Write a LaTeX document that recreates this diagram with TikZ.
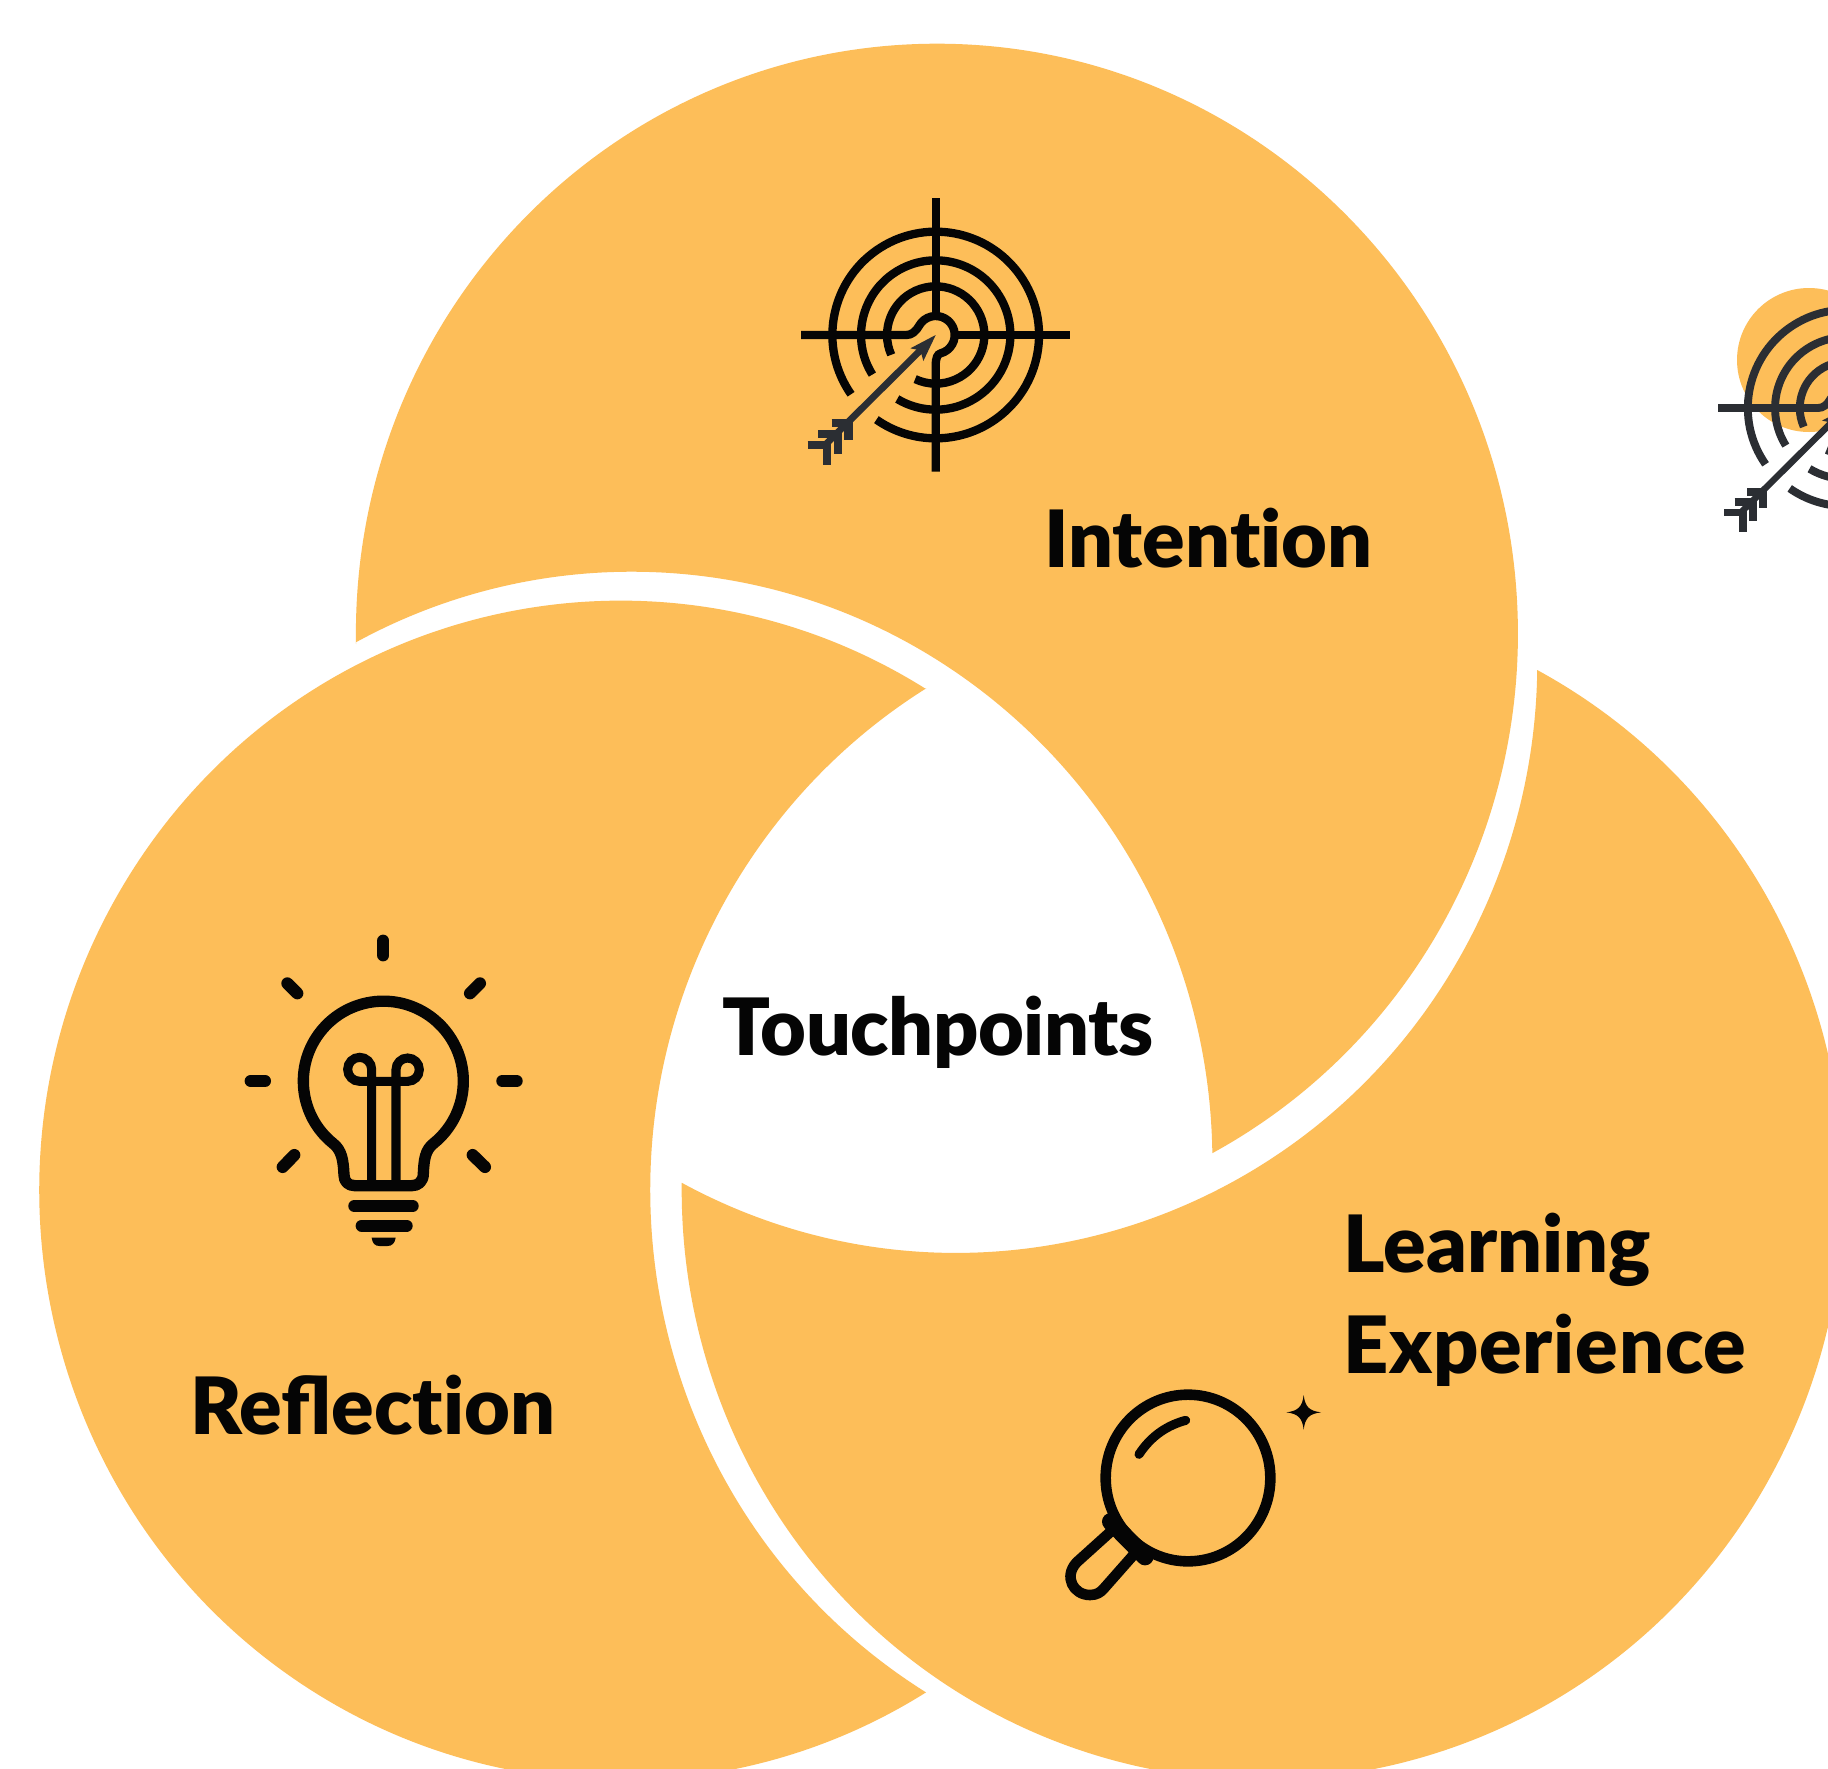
\documentclass[tikz,border=0pt]{standalone}
\usepackage{fontspec}
\newfontfamily\lab{Lato Black}
\definecolor{venn}{HTML}{FDBE59}
\definecolor{ink}{HTML}{050505}
\definecolor{slate}{HTML}{2B2E33}
\def\ru{0.02cm}
\def\zl#1{#1*0.215pt}
\newcommand{\targeticon}[5]{%
 \begin{scope}[shift={(#1,#2)},scale=#3/3]
  \begin{scope}[draw=#4,line width=\zl{22*#3}]
   \draw ({310*cos(215)},{-310*sin(215)}) arc[start angle=215,end angle=-125,radius={310*\ru}];
   \draw ({224*cos(212)},{-224*sin(212)}) arc[start angle=212,end angle=-121,radius={224*\ru}];
   \draw ({146*cos(204)},{-146*sin(204)}) arc[start angle=204,end angle=-115,radius={146*\ru}];
   \draw (-404,0) -- (-88,0) .. controls (-72,0) and (-59,-11) .. ({57*cos(150)},{-57*sin(150)})
      arc[start angle=150,end angle=-75,radius={57*\ru}]
      .. controls (5,58) and (0,68) .. (0,92) -- (0,410);
   \draw (0,-410) -- (0,-57);
   \draw (57,0) -- (403,0);
  \end{scope}
  \begin{scope}[draw=#5,fill=#5]
   \fill (0,0) -- (-76,40) -- (-46,46) -- (-37,78) -- cycle;
   \draw[line width=\zl{18*#3}] (-42,42) -- (-332,330);
   \begin{scope}[line width=\zl{22*#3}]
    \draw (-312,265) -- (-262,265) -- (-262,315);
    \draw (-352,298) -- (-294,298) -- (-294,357);
    \draw (-384,330) -- (-326,330) -- (-326,390);
   \end{scope}
  \end{scope}
 \end{scope}}
\begin{document}
\begin{tikzpicture}[x=\ru,y=-\ru,
  labeltext/.style={anchor=base west,inner sep=0pt,font=\lab\fontsize{45}{45}\selectfont,text=ink},
  ray/.style={draw=ink,line width=\zl{32},line cap=round}]
\useasboundingbox (0,0) rectangle (1828,1768);
\clip (0,0) rectangle (1828,1768);
\fill[white] (0,0) rectangle (1828,1768);
% three cut discs
\fill[venn] (356,644) arc[x radius={581*\ru},y radius={590*\ru},start angle=181,end angle=-61.7]
  arc[x radius={581*\ru},y radius={590*\ru},start angle=0.83,end angle=118.3] -- cycle;
\fill[venn] (926,689) arc[x radius={581*\ru},y radius={590*\ru},start angle=58.25,end angle=301.75]
  arc[x radius={581*\ru},y radius={590*\ru},start angle=238.3,end angle=121.7] -- cycle;
\fill[venn] (1539,671) arc[x radius={581*\ru},y radius={590*\ru},start angle=61.6,end angle=-180.7]
  arc[x radius={581*\ru},y radius={590*\ru},start angle=-118.2,end angle=-0.7] -- cycle;
% stray icon, upper right
\fill[venn] (1809,360) circle[radius={72*\ru}];
\targeticon{1846}{408}{0.95}{slate}{slate}
% target
\targeticon{935.7}{335}{1}{ink}{slate}
% bulb
\begin{scope}[shift={(220,910)},scale=1/3]
 \draw[ink,line width=\zl{30},line join=round]
   (339,700) arc[start angle=231,end angle=-51,radius={240*\ru}]
   .. controls (615,720) and (612,750) .. (610,790)
   .. controls (610,815) and (595,827) .. (575,827) -- (405,827)
   .. controls (385,827) and (372,815) .. (372,795)
   .. controls (370,750) and (365,720) .. (339,700) -- cycle;
 \draw[ink,line width=\zl{24}] (455,827) -- (455,478)
   arc[start angle=0,end angle=270,radius={36*\ru}] -- (563,514)
   arc[start angle=-90,end angle=180,radius={35*\ru}] -- (528,827);
 \draw[ray] (403,888) -- (578,888);
 \draw[ray] (425,947) -- (560,947);
 \fill[ink] (455,983) -- (527,983) .. controls (525,1000) and (515,1008) .. (503,1008)
   -- (478,1008) .. controls (465,1008) and (457,1000) .. (455,983) -- cycle;
 \draw[ray] (490,92) -- (490,136);
 \draw[ray] (202,220) -- (232,250);
 \draw[ray] (780,220) -- (750,250);
 \draw[ray] (92,513) -- (135,513);
 \draw[ray] (847,513) -- (890,513);
 \draw[ray] (223,735) -- (188,771);
 \draw[ray] (758,735) -- (795,771);
\end{scope}
% magnifier
\begin{scope}[shift={(1040,1360)},scale=1/3]
 \draw[ink,line width=\zl{28}] (444,354) circle[x radius={247*\ru},y radius={250*\ru}];
 \draw[ink,line width=\zl{24},line cap=round] (297,283) .. controls (335,225) and (385,195) .. (437,181);
 \draw[ink,line width=\zl{28},line join=round] (212,515) -- (110,607)
   .. controls (70,650) and (100,705) .. (150,705)
   .. controls (170,705) and (182,697) .. (192,685) -- (282,583);
 \draw[ink,line width=\zl{46},line cap=round] (212,485) -- (315,590);
 \fill[ink] (791,105) .. controls (795,140) and (808,153) .. (843,157)
   .. controls (808,161) and (795,174) .. (791,209)
   .. controls (787,174) and (774,161) .. (739,157)
   .. controls (774,153) and (787,140) .. (791,105) -- cycle;
\end{scope}
% labels
\node[labeltext] (intention) at (1044,567) {Intent\kern0pt ion};
\node[labeltext] (touchpoints) at (722,1055) {\addfontfeature{LetterSpace=-0.6}Touchpoints};
\node[labeltext] (reflection) at (190,1434) {Reflect\kern0pt ion};
\node[labeltext] (learning) at (1343,1272) {Learning};
\node[labeltext] (experience) at (1343,1373) {\addfontfeature{LetterSpace=1}Experience};
\end{tikzpicture}
\end{document}
